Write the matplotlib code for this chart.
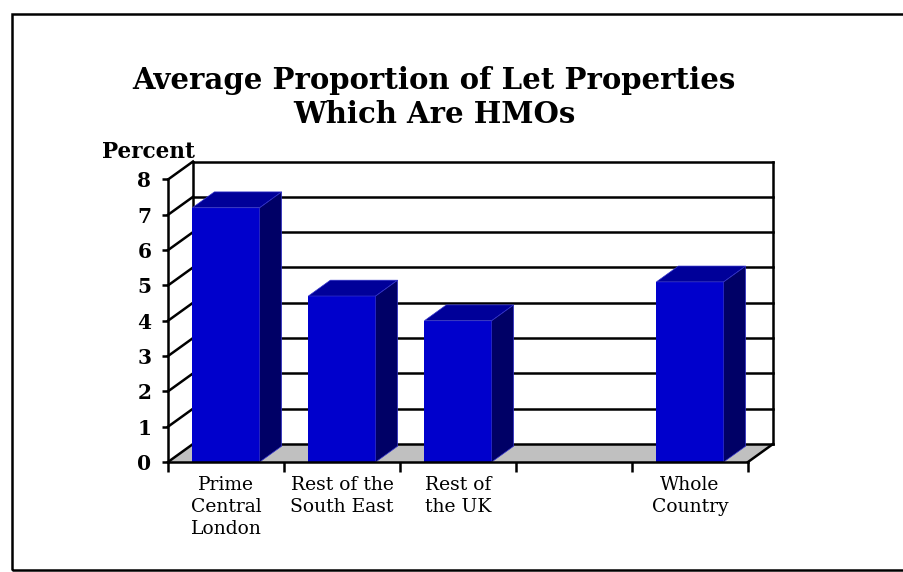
import numpy as np
import matplotlib
matplotlib.use("Agg")
import matplotlib.pyplot as plt
from matplotlib.patches import Polygon, Rectangle

# ---- data ----
categories = ["Prime\nCentral\nLondon", "Rest of the\nSouth East", "Rest of\nthe UK", "", "Whole\nCountry"]
values = [7.2, 4.7, 4.0, np.nan, 5.1]
y_ticks = [0, 1, 2, 3, 4, 5, 6, 7, 8]
title_lines = ["Average Proportion of Let Properties", "Which Are HMOs"]
y_label = "Percent"

# ---- style ----
SERIF = ["DejaVu Serif"]
FRONT = "#0000CC"
TOP = "#000099"
SIDE = "#000066"
FLOOR = "#C0C0C0"
LW = 1.8

W, H = 904, 572
fig = plt.figure(figsize=(W / 100, H / 100), dpi=100)
fig.patch.set_facecolor("white")

# front plane of the 3-D box (pixels from top-left)
x0, x1 = 168, 748
y0, y1 = 462, 179.5
ax = fig.add_axes([x0 / W, 1 - y0 / H, (x1 - x0) / W, (y0 - y1) / H])
ax.set_xlim(-0.5, 4.5)
ax.set_ylim(0, 8)
ax.patch.set_visible(False)

DEPTH_PX = np.array([25.0, 18.0])   # oblique shift of the back wall
BAR_DEPTH = 0.88
BAR_W = 0.58


def proj(x, y, d=0.0):
    """Data point (x, y) pushed back by depth d (0 = front, 1 = back wall)."""
    disp = ax.transData.transform((x, y)) + d * DEPTH_PX
    return ax.transData.inverted().transform(disp)


def line3d(pts, **kw):
    arr = np.array([proj(*p) for p in pts])
    ax.plot(arr[:, 0], arr[:, 1], color="black", lw=LW, clip_on=False,
            solid_capstyle="projecting", **kw)


xmin, xmax = ax.get_xlim()
ymin, ymax = ax.get_ylim()

# floor
floor = [proj(xmin, 0, 0), proj(xmax, 0, 0), proj(xmax, 0, 1), proj(xmin, 0, 1)]
ax.add_patch(Polygon(floor, closed=True, facecolor=FLOOR, edgecolor="none",
                     clip_on=False, zorder=1))
line3d([(xmax, 0, 0), (xmax, 0, 1)], zorder=2)

# back wall grid and left wall diagonals
for v in y_ticks:
    line3d([(xmin, v, 1), (xmax, v, 1)], zorder=2)
    line3d([(xmin, v, 0), (xmin, v, 1)], zorder=2)
line3d([(xmin, ymin, 1), (xmin, ymax, 1)], zorder=2)
line3d([(xmax, ymin, 1), (xmax, ymax, 1)], zorder=2)

# bars: front face through ax.bar, top and side faces in depth
xs = np.arange(len(categories))
ax.bar(xs, values, width=BAR_W, color=FRONT, zorder=3)
for x, v in zip(xs, values):
    if np.isnan(v):
        continue
    l, r = x - BAR_W / 2, x + BAR_W / 2
    top = [proj(l, v, 0), proj(r, v, 0), proj(r, v, BAR_DEPTH), proj(l, v, BAR_DEPTH)]
    side = [proj(r, 0, 0), proj(r, v, 0), proj(r, v, BAR_DEPTH), proj(r, 0, BAR_DEPTH)]
    ax.add_patch(Polygon(top, closed=True, facecolor=TOP, edgecolor="#3333CC",
                         lw=0.5, clip_on=False, zorder=3))
    ax.add_patch(Polygon(side, closed=True, facecolor=SIDE, edgecolor="#3333CC",
                         lw=0.5, clip_on=False, zorder=3))

# axes
for s in ("top", "right"):
    ax.spines[s].set_visible(False)
for s in ("left", "bottom"):
    ax.spines[s].set_linewidth(LW)
    ax.spines[s].set_zorder(4)

ax.set_yticks(y_ticks)
ax.set_yticklabels([str(t) for t in y_ticks], family=SERIF, weight="bold", fontsize=14.5)
ax.tick_params(axis="y", direction="out", length=4, width=LW, pad=8)

ax.set_xticks(xs)
ax.set_xticklabels(categories, family=SERIF, fontsize=13.5, linespacing=1.3)
ax.set_xticks(np.arange(xmin, xmax + 0.01, 1), minor=True)
ax.tick_params(axis="x", which="major", length=0, pad=10)
ax.tick_params(axis="x", which="minor", direction="out", length=7, width=LW)

# titles
fig.text(434 / W, 1 - 89.3 / H, title_lines[0], ha="center", va="baseline",
         family=SERIF, weight="bold", fontsize=21)
fig.text(434 / W, 1 - 123.3 / H, title_lines[1], ha="center", va="baseline",
         family=SERIF, weight="bold", fontsize=21)
fig.text(102 / W, 1 - 158 / H, y_label, ha="left", va="baseline",
         family=SERIF, weight="bold", fontsize=15.6)

# chart frame
fig.add_artist(Rectangle((12.5 / W, 2 / H), 1.0, (H - 16) / H,
                         transform=fig.transFigure, fill=False,
                         edgecolor="black", lw=1.8))

fig.savefig("out.png", dpi=100, facecolor="white")
